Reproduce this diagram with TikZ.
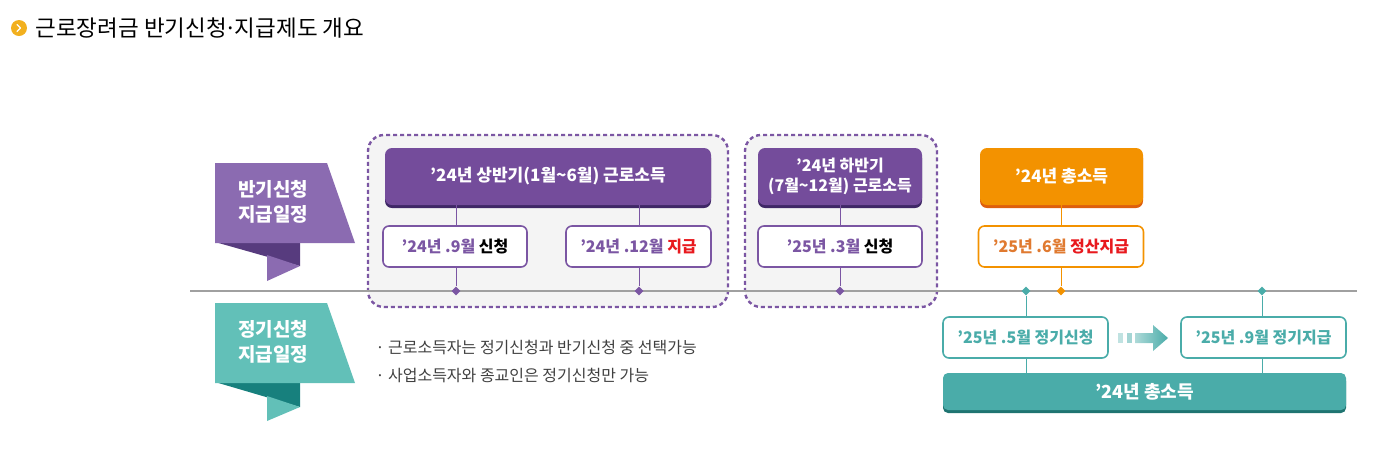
\documentclass[tikz,border=0pt]{standalone}
\usepackage{fontspec}
\setmainfont{Noto Sans CJK KR}
\usetikzlibrary{shapes.geometric,shadows}
\definecolor{pM}{HTML}{8B6BB1}
\definecolor{pD}{HTML}{573B7E}
\definecolor{pH}{HTML}{744C9B}
\definecolor{pHd}{HTML}{3F2766}
\definecolor{pL}{HTML}{7B56A3}
\definecolor{tM}{HTML}{62C0B8}
\definecolor{tD}{HTML}{17807D}
\definecolor{tB}{HTML}{4AACA9}
\definecolor{tBd}{HTML}{1F7471}
\definecolor{oM}{HTML}{F39200}
\definecolor{oMd}{HTML}{DE5F0C}
\definecolor{oT}{HTML}{E07A30}
\definecolor{rd}{HTML}{E8191E}
\definecolor{ttl}{HTML}{F2B01E}
\definecolor{gline}{HTML}{A0A0A0}
\definecolor{gbg}{HTML}{F4F4F4}

\begin{document}
\begin{tikzpicture}[
      x=1pt,y=-1pt,
      hdr/.style 2 args={rounded corners=7pt,fill=#1,text=white,align=center,
        general shadow={fill=#2,shadow yshift=-3pt},
        font=\bfseries\fontsize{17}{21}\selectfont},
      sub/.style={draw=#1,line width=1.6pt,fill=white,rounded corners=6pt,
        minimum height=41pt,font=\bfseries\fontsize{16}{19}\selectfont},
      grp/.style={draw=pL,fill=gbg,line width=2.4pt,dash pattern=on 4pt off 3pt,
        rounded corners=16pt},
      dia/.style={diamond,fill=#1,inner sep=0pt,minimum size=9pt},
      vl/.style={draw=#1,line width=1pt},
      btxt/.style={text=white,align=center,font=\bfseries\fontsize{19}{25}\selectfont},
      note/.style={anchor=west,text=black!75,font=\fontsize{16}{19}\selectfont},
      tline/.style={draw=gline,line width=2pt}]
    \useasboundingbox (0,0) rectangle (1386,451);
    % title
    \node[circle,fill=ttl,minimum size=16pt,inner sep=0pt] (ico) at (19,28) {};
    \draw[white,line width=1.4pt,line cap=round,line join=round] (17,24.5) -- (20.5,28) -- (17,31.5);
    \node[anchor=west,font=\fontsize{22.5}{26}\selectfont] (ttx) at (32,28)
      {근로장려금 반기신청\kern-.1em·\kern-.1em지급제도 개요};
    % dashed groups
    \node[grp,minimum width=360pt,minimum height=172pt] (g1) at (548,221) {};
    \node[grp,minimum width=192pt,minimum height=172pt] (g2) at (841,221) {};
    % timeline
    \coordinate (tl) at (190,291);
    \coordinate (tr) at (1357,291);
    \draw[tline] (tl) -- (tr);
    % ribbons
    \fill[pD] (215,242) -- (300,243) -- (300,266) -- cycle;
    \fill[pM] (267,255) -- (300,266) -- (267,281) -- cycle;
    \fill[pM] (215,163) -- (327,163) -- (355,243) -- (215,243) -- cycle;
    \node[btxt] (b1) at (273,202) {반기신청\\지급일정};
    \fill[tD] (215,382) -- (300,383) -- (300,407) -- cycle;
    \fill[tM] (267,396) -- (300,407) -- (267,421) -- cycle;
    \fill[tM] (215,303) -- (327,303) -- (355,383) -- (215,383) -- cycle;
    \node[btxt] (b2) at (273,342) {정기신청\\지급일정};
    % headers
    \node[hdr={pH}{pHd},minimum width=326pt,minimum height=57pt] (h1) at (548,176.5)
      {’24년 상반기(1월\textasciitilde6월) 근로소득};
    \node[hdr={pH}{pHd},minimum width=164pt,minimum height=57pt,font=\bfseries\fontsize{16}{20}\selectfont] (h2) at (840,176.5)
      {’24년 하반기\\(7월\textasciitilde12월) 근로소득};
    \node[hdr={oM}{oMd},minimum width=163pt,minimum height=57pt] (h3) at (1061.5,176.5)
      {’24년 총소득};
    % diamonds
    \node[dia=pL] (d1) at (456,291) {};
    \node[dia=pL] (d2) at (639,291) {};
    \node[dia=pL] (d3) at (840,291) {};
    \node[dia=tB] (d5) at (1026,291) {};
    \node[dia=oM] (d4) at (1061,291) {};
    \node[dia=tB] (d6) at (1262,291) {};
    % sub boxes
    \node[sub=pL,minimum width=144pt] (s1) at (455,246.5) {{\color{pL}’24년 .9월} 신청};
    \node[sub=pL,minimum width=145pt] (s2) at (638.5,246.5) {{\color{pL}’24년 .12월} {\color{rd}지급}};
    \node[sub=pL,minimum width=164pt] (s3) at (840,246.5) {{\color{pL}’25년 .3월} 신청};
    \node[sub=oM,minimum width=165pt] (s4) at (1061,246.5) {{\color{oT}’25년 .6월} {\color{rd}정산지급}};
    \node[sub=tB,text=tB,minimum width=165pt] (t1) at (1025.5,337.5) {’25년 .5월 정기신청};
    \node[sub=tB,text=tB,minimum width=165pt] (t2) at (1263.5,337.5) {’25년 .9월 정기지급};
    \node[hdr={tB}{tBd},rounded corners=5pt,minimum width=403pt,minimum height=37pt,font=\bfseries\fontsize{18}{21}\selectfont] (tb) at (1144.5,391.5)
      {’24년 총소득};
    % connectors
    \draw[vl=pL] (h1.south -| d1) -- (s1.north -| d1);
    \draw[vl=pL] (s1.south -| d1) -- (d1);
    \draw[vl=pL] (h1.south -| d2) -- (s2.north -| d2);
    \draw[vl=pL] (s2.south -| d2) -- (d2);
    \draw[vl=pL] (h2.south -| d3) -- (s3.north -| d3);
    \draw[vl=pL] (s3.south -| d3) -- (d3);
    \draw[vl=oM] (h3.south -| d4) -- (s4.north -| d4);
    \draw[vl=oM] (s4.south -| d4) -- (d4);
    \draw[vl=tB] (d5) -- (t1.north -| d5);
    \draw[vl=tB] (t1.south -| d5) -- (tb.north -| d5);
    \draw[vl=tB] (d6) -- (t2.north -| d6);
    \draw[vl=tB] (t2.south -| d6) -- (tb.north -| d6);
    % block arrow
    \fill[tB!35] (1118,333) rectangle (1123,343);
    \fill[tB!50] (1127,333) rectangle (1132,343);
    \shade[left color=tB!45,right color=tB] (1135,333) -- (1153,333) -- (1153,325) -- (1168,338)
      -- (1153,351) -- (1153,343) -- (1135,343) -- cycle;
    % notes
    \node[note] (n1) at (372,347) {· 근로소득자는 정기신청과 반기신청 중 선택가능};
    \node[note] (n2) at (372,375) {· 사업소득자와 종교인은 정기신청만 가능};
  \end{tikzpicture}
\end{document}
